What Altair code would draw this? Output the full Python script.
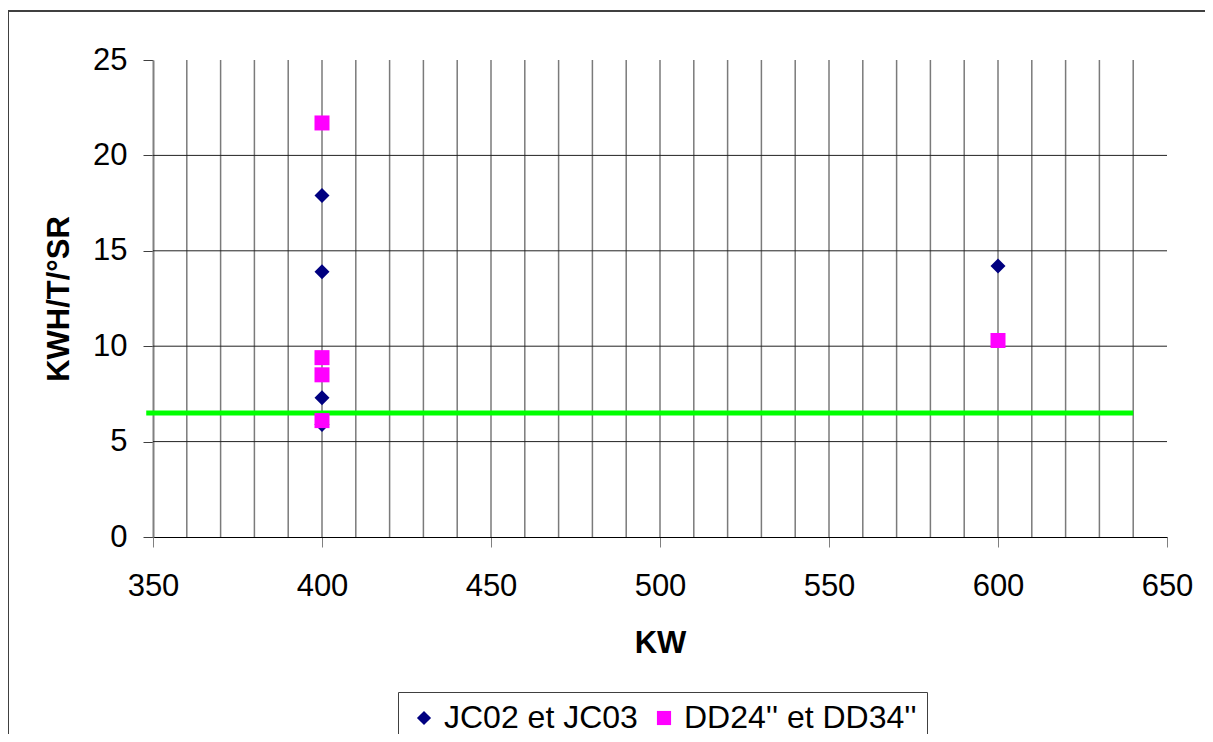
import altair as alt
import pandas as pd

# ---- data ----
series_names = ["JC02 et JC03", "DD24'' et DD34''"]
jc_kw = [400, 400, 400, 400, 600]
jc_val = [17.9, 13.9, 7.3, 5.9, 14.2]
dd_kw = [400, 400, 400, 400, 600]
dd_val = [21.7, 9.4, 8.5, 6.1, 10.3]

x_ticks = [350, 400, 450, 500, 550, 600, 650]
y_ticks = [0, 5, 10, 15, 20, 25]
x_grid = [360, 370, 380, 390, 400, 410, 420, 430, 440, 450, 460, 470, 480, 490, 500,
          510, 520, 530, 540, 550, 560, 570, 580, 590, 600, 610, 620, 630, 640]
y_grid = [5, 10, 15, 20]
x_range = [350, 650]
y_range = [0, 25]

threshold_value = 6.5
threshold_start = 348
threshold_end = 640

FONT = "Liberation Sans"
FS = 31

rows = []
for i, (k, v) in enumerate(zip(jc_kw, jc_val)):
    rows.append({"kind": "pt", "x": k, "y": v, "series": series_names[0], "order": i})
for i, (k, v) in enumerate(zip(dd_kw, dd_val)):
    rows.append({"kind": "pt", "x": k, "y": v, "series": series_names[1], "order": 10 + i})
for g in x_grid:
    rows.append({"kind": "vgrid", "x": g, "y": y_range[0], "y2": y_range[1]})
for g in y_grid:
    rows.append({"kind": "hgrid", "x": x_range[0], "x2": x_range[1], "y": g})
rows.append({"kind": "thr", "x": threshold_start, "x2": threshold_end, "y": threshold_value})
df = pd.DataFrame(rows)

xs = alt.Scale(domain=x_range, nice=False, zero=False)
ys = alt.Scale(domain=y_range, nice=False, zero=True)

AX = alt.Axis(
    values=x_ticks, title="KW", grid=False, tickSize=10, tickColor="#808080",
    domainColor="#000000", domainWidth=1, labelFont=FONT, labelFontSize=FS,
    labelColor="black", labelPadding=24, labelFlush=False, labelOverlap=False,
    titleFont=FONT, titleFontSize=FS, titleFontWeight="bold", titleColor="black",
    titleY=115, titleBaseline="alphabetic",
)
AY = alt.Axis(
    values=y_ticks, title="KWH/T/°SR", grid=False, tickSize=10, tickColor="#404040",
    domainColor="#808080", domainWidth=2, labelFont=FONT, labelFontSize=FS,
    labelColor="black", labelPadding=16, labelFlush=False, labelOverlap=False,
    titleFont=FONT, titleFontSize=FS, titleFontWeight="bold", titleColor="black",
    titleX=-85, titleY=238.5, titleBaseline="alphabetic", titleAngle=270, titleAlign="center",
)

base = alt.Chart(df).encode(
    x=alt.X("x:Q", scale=xs, axis=AX),
    y=alt.Y("y:Q", scale=ys, axis=AY),
)

# outer frame (decoration)
frame = alt.Chart(pd.DataFrame({"a": [0]})).mark_rect(
    filled=False, stroke="#404040", strokeWidth=2
).encode(
    x=alt.value(-145), x2=alt.value(1070), y=alt.value(-49), y2=alt.value(700)
)

vgrid = base.transform_filter(alt.datum.kind == "vgrid").mark_rule(
    color="#7a7a7a", strokeWidth=1.5
).encode(y2="y2:Q")

hgrid = base.transform_filter(alt.datum.kind == "hgrid").mark_rule(
    color="#222222", strokeWidth=1
).encode(x2="x2:Q")

thr = base.transform_filter(alt.datum.kind == "thr").mark_rule(
    color="#00FF00", strokeWidth=5
).encode(x2="x2:Q")

legend = alt.Legend(
    title=None, orient="none", legendX=245, legendY=632, direction="horizontal",
    strokeColor="#404040", padding=10, fillColor="white",
    labelFont=FONT, labelFontSize=32, labelColor="black", labelLimit=600,
    symbolSize=200, labelOffset=4, columnPadding=10, symbolStrokeWidth=0,
    symbolOpacity=1, cornerRadius=0,
)

pts = base.transform_filter(alt.datum.kind == "pt").mark_point(
    filled=True, size=225, opacity=1
).encode(
    color=alt.Color("series:N", scale=alt.Scale(domain=series_names, range=["#000080", "#FF00FF"]),
                    sort=series_names, legend=legend),
    shape=alt.Shape("series:N", scale=alt.Scale(domain=series_names, range=["diamond", "square"]),
                    sort=series_names, legend=legend),
    order="order:Q",
)

chart = alt.layer(frame, vgrid, hgrid, thr, pts).properties(
    width=1014, height=477,
    autosize=alt.AutoSizeParams(type="none"),
    padding={"left": 145, "top": 52, "right": 38, "bottom": 197},
    background="white",
).configure_view(strokeWidth=0)

chart.save("out.html", embed_options={"renderer": "svg", "actions": False})
